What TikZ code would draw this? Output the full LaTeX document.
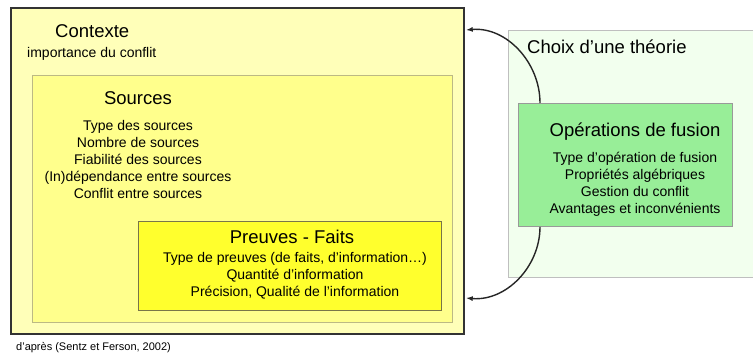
\documentclass[tikz,border=0pt]{standalone}
\usepackage{fontspec}
\setmainfont{Liberation Sans}
\usetikzlibrary{arrows.meta,calc}
\definecolor{ctxfill}{RGB}{255,255,185}
\definecolor{srcfill}{RGB}{255,255,140}
\definecolor{prvfill}{RGB}{255,255,45}
\definecolor{chxfill}{RGB}{242,255,238}
\definecolor{opsfill}{RGB}{152,238,152}
\tikzset{
  box/.style={rectangle, anchor=north west, inner sep=0pt},
  title/.style={font=\fontsize{18.5}{22}\selectfont, inner sep=0pt},
  items/.style={font=\fontsize{14}{17}\selectfont, align=center, inner sep=0pt},
  conn/.style={line width=1.4pt, draw=black!85, -{Latex[length=7pt,width=5pt]}}
}
\begin{document}
\begin{tikzpicture}[x=1pt,y=-1pt]
\useasboundingbox (0,0) rectangle (753,359);
\fill[white] (0,0) rectangle (753,359);
% boxes
\node[box, fill=ctxfill, draw=black!80, line width=1.8pt, minimum width=453pt, minimum height=326pt] (ctx) at (10,7) {};
\node[box, fill=srcfill, draw=yellow!50!black!60, line width=0.8pt, minimum width=420pt, minimum height=247pt] (src) at (32,75) {};
\node[box, fill=prvfill, draw=yellow!40!black, line width=0.8pt, minimum width=303pt, minimum height=89pt] (prv) at (138,221) {};
\node[box, fill=chxfill, draw=black!25, line width=0.8pt, minimum width=260pt, minimum height=247pt] (chx) at (508,30) {};
\node[box, fill=opsfill, draw=black!40, line width=0.8pt, minimum width=214pt, minimum height=123pt] (ops) at (518,103) {};
% texts
\node[title, anchor=west] (tctx) at (55,31) {Contexte};
\node[items, anchor=west] (ictx) at (27,54) {importance du conflit};
\node[title] (tsrc) at (138,98) {Sources};
\node[items] (isrc) at (138,159) {Type des sources\\Nombre de sources\\Fiabilité des sources\\(In)dépendance entre sources\\Conflit entre sources};
\node[title] (tprv) at (292,237) {Preuves - Faits};
\node[items] (iprv) at (295,276) {Type de preuves (de faits, d’information…)\\Quantité d’information\\Précision, Qualité de l’information};
\node[title, anchor=west] (tchx) at (527,47) {Choix d’une théorie};
\node[title] (tops) at (635,132) {Opérations de fusion};
\node[items] (iops) at (635,184) {Type d’opération de fusion\\Propriétés algébriques\\Gestion du conflit\\Avantages et inconvénients};
\node[font=\fontsize{11}{13}\selectfont, anchor=west, inner sep=0pt] (note) at (16,348) {d’après (Sentz et Ferson, 2002)};
% connectors
\coordinate (a1s) at ($(ops.north west)+(22,0)$);
\coordinate (a2s) at ($(ops.south west)+(22,0)$);
\coordinate (a1e) at ($(ctx.north east)+(1,23)$);
\coordinate (a2e) at ($(ctx.north east)+(1,291)$);
\draw[conn] (a1s) to[out=90,in=5] (a1e);
\draw[conn] (a2s) to[out=-90,in=-5] (a2e);
\end{tikzpicture}
\end{document}
